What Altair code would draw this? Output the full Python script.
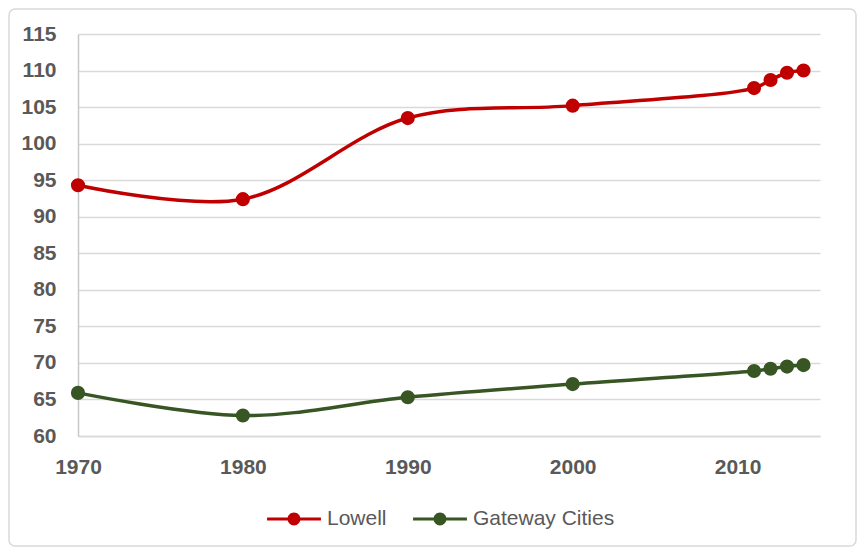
import altair as alt
import pandas as pd

years = [1970, 1980, 1990, 2000, 2011, 2012, 2013, 2014]
lowell = [94.3, 92.4, 103.5, 105.2, 107.6, 108.7, 109.7, 110.0]
gateway = [65.9, 62.8, 65.3, 67.1, 68.9, 69.2, 69.5, 69.7]
series = ["Lowell", "Gateway Cities"]
colors = ["#C00000", "#375623"]
y_ticks = list(range(60, 116, 5))
x_ticks = [1970, 1980, 1990, 2000, 2010]

rows = []
for name, vals in zip(series, [lowell, gateway]):
    for yr, v in zip(years, vals):
        rows.append({"year": yr, "value": v, "series": name})
df = pd.DataFrame(rows)

W, H = 742, 402
font = "Liberation Sans"

legend_path = ("M-1,-0.06 L1,-0.06 L1,0.06 L-1,0.06 Z "
               "M-0.24,0 A0.24,0.24 0 1,1 0.24,0 A0.24,0.24 0 1,1 -0.24,0 Z")

x = alt.X("year:Q", scale=alt.Scale(domain=[1970, 2015], nice=False, zero=False),
          axis=alt.Axis(values=x_ticks, format="d", title=None, grid=False, ticks=False,
                        labelPadding=20, labelFlush=False, domainColor="#d9d9d9", domainWidth=1.5,
                        labelFont=font, labelFontSize=21, labelFontWeight="bold",
                        labelColor="#595959"))
y = alt.Y("value:Q", scale=alt.Scale(domain=[60, 115], nice=False, zero=False),
          axis=alt.Axis(values=y_ticks, title=None, ticks=False, labelPadding=22, labelFlush=False,
                        gridColor="#d9d9d9", gridWidth=1.5, domainColor="#c8c8c8", domainWidth=1.5,
                        labelFont=font, labelFontSize=21, labelFontWeight="bold",
                        labelColor="#595959"))
color = alt.Color("series:N", scale=alt.Scale(domain=series, range=colors),
                  legend=alt.Legend(title=None, orient="none", direction="horizontal",
                                    legendX=189, legendY=458,
                                    symbolType=legend_path, symbolSize=2900, symbolStrokeWidth=0,
                                    symbolOpacity=1, labelFontSize=21, labelColor="#595959",
                                    labelFont=font, columnPadding=26, labelOffset=6))

base = alt.Chart(df)
line = base.mark_line(interpolate="catmull-rom", strokeWidth=3.5).encode(x=x, y=y, color=color)
points = base.mark_point(filled=True, size=200, opacity=1).encode(x=x, y=y, color=color)

border = alt.Chart(pd.DataFrame({"a": [0]})).mark_rect(
    fill="white", fillOpacity=0, stroke="#d9d9d9", strokeWidth=1.5, cornerRadius=6, clip=False
).encode(x=alt.value(-69), x2=alt.value(W + 36), y=alt.value(-25), y2=alt.value(H + 110))

chart = alt.layer(border, line, points).properties(
    width=W, height=H,
    autosize=alt.AutoSizeParams(type="none"),
    padding={"left": 70, "top": 26, "right": 37, "bottom": 111},
    background="white",
).configure_view(stroke=None)

chart.save("out.html", embed_options={"renderer": "svg", "actions": False})
